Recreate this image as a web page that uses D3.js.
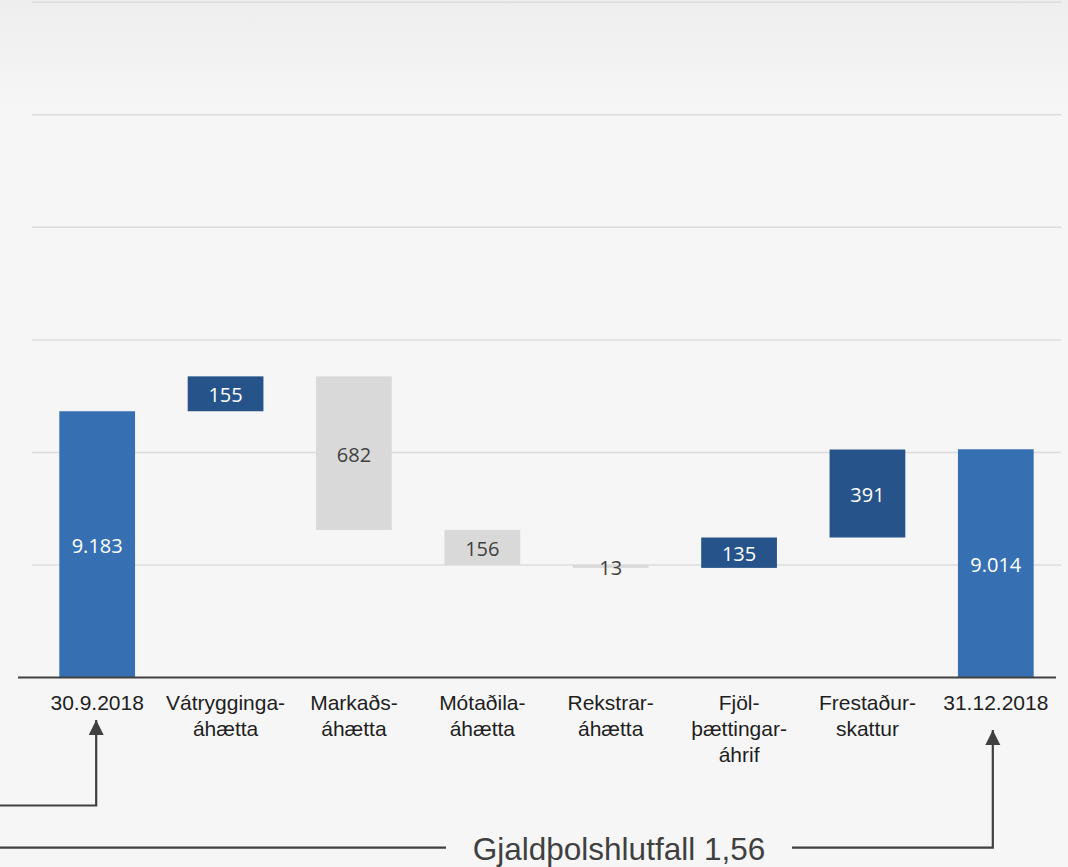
<!DOCTYPE html>
<html lang="is">
  <head>
    <meta charset="UTF-8" />
    <title>Gjaldþol - brúarmynd</title>
    <style>
      html, body { margin: 0; padding: 0; background: #f6f6f6; }
      svg { display: block; }
      .cat { font-family: "Liberation Sans", Arial, sans-serif; font-size: 21px; fill: #1e1e1e; }
      .val { font-family: "Open Sans", "Noto Sans", sans-serif; font-size: 20px; }
      .note { font-family: "Liberation Sans", Arial, sans-serif; font-size: 31.5px; fill: #404040; }
    </style>
  </head>
  <body>
    <svg width="1068" height="867"></svg>
    <script src="https://cdn.jsdelivr.net/npm/d3@7"></script>
    <script>
      // data
      const categories = [
        "30.9.2018",
        "Vátrygginga-\náhætta",
        "Markaðs-\náhætta",
        "Mótaðila-\náhætta",
        "Rekstrar-\náhætta",
        "Fjöl-\nþættingar-\náhrif",
        "Frestaður-\nskattur",
        "31.12.2018",
      ];
      const values = [9183, 155, -682, -156, -13, 135, 391, 9014];
      const kinds = ["total", "up", "down", "down", "down", "up", "up", "total"];
      const yDomain = [8000, 11000];
      const noteText = "Gjaldþolshlutfall 1,56";

      const colors = { total: "#3670b2", up: "#26548a", down: "#d8d9d8" };
      const labelColors = { total: "#ffffff", up: "#ffffff", down: "#404040" };

      const fmt = d3.formatLocale({ decimal: ",", thousands: ".", grouping: [3], currency: ["", ""] }).format(",d");

      // build waterfall steps
      let running = 0;
      const steps = values.map((v, i) => {
        let start, end;
        if (kinds[i] === "total") {
          start = yDomain[0];
          end = v;
          running = v;
        } else {
          start = running;
          end = running + v;
          running = end;
        }
        return { cat: categories[i], kind: kinds[i], value: v, lo: Math.min(start, end), hi: Math.max(start, end) };
      });

      const svg = d3.select("svg");
      const width = +svg.attr("width");

      // background gradient at the top
      const defs = svg.append("defs");
      const grad = defs.append("linearGradient").attr("id", "bg").attr("x1", 0).attr("y1", 0).attr("x2", 0).attr("y2", 1);
      grad.append("stop").attr("offset", "0%").attr("stop-color", "#eeeeee");
      grad.append("stop").attr("offset", "100%").attr("stop-color", "#f6f6f6");
      svg.append("rect").attr("width", width).attr("height", 867).attr("fill", "#f6f6f6");
      svg.append("rect").attr("width", width).attr("height", 110).attr("fill", "url(#bg)");

      const x = d3.scaleBand().domain(categories).range([33, 1060]).paddingInner(0.41).paddingOuter(0.205);
      const y = d3.scaleLinear().domain(yDomain).range([677.5, 2.3]);

      // gridlines
      svg.append("g")
        .selectAll("line")
        .data(y.ticks(6).filter((t) => t > yDomain[0]))
        .join("line")
        .attr("x1", 32)
        .attr("x2", 1061)
        .attr("y1", (d) => y(d))
        .attr("y2", (d) => y(d))
        .attr("stroke", "#dcdcdc")
        .attr("stroke-width", 1.5);

      // bars
      const bars = svg.append("g").selectAll("g").data(steps).join("g");
      bars.append("rect")
        .attr("x", (d) => x(d.cat))
        .attr("width", x.bandwidth())
        .attr("y", (d) => y(d.hi))
        .attr("height", (d) => y(d.lo) - y(d.hi))
        .attr("fill", (d) => colors[d.kind]);

      bars.append("text")
        .attr("class", "val")
        .attr("x", (d) => x(d.cat) + x.bandwidth() / 2)
        .attr("y", (d) => (y(d.lo) + y(d.hi)) / 2 + 1)
        .attr("text-anchor", "middle")
        .attr("dominant-baseline", "central")
        .attr("fill", (d) => labelColors[d.kind])
        .text((d) => fmt(Math.abs(d.value)));

      // baseline
      svg.append("line")
        .attr("x1", 18)
        .attr("x2", 1056)
        .attr("y1", y(yDomain[0]))
        .attr("y2", y(yDomain[0]))
        .attr("stroke", "#404040")
        .attr("stroke-width", 2);

      // category labels
      const cats = svg.append("g").selectAll("text").data(categories).join("text")
        .attr("class", "cat")
        .attr("text-anchor", "middle")
        .attr("transform", (d) => "translate(" + (x(d) + x.bandwidth() / 2) + ",710)");
      cats.selectAll("tspan")
        .data((d) => d.split("\n"))
        .join("tspan")
        .attr("x", 0)
        .attr("y", (d, i) => i * 26)
        .text((d) => d);

      // arrows below the axis
      defs.append("marker")
        .attr("id", "head")
        .attr("viewBox", "0 0 10 10")
        .attr("refX", 10)
        .attr("refY", 5)
        .attr("markerUnits", "userSpaceOnUse")
        .attr("markerWidth", 15)
        .attr("markerHeight", 16)
        .attr("orient", "auto")
        .append("path")
        .attr("d", "M0,0 L10,5 L0,10 Z")
        .attr("fill", "#404040");

      const xFirst = x(categories[0]) + x.bandwidth() / 2 - 1;
      const xLast = x(categories[categories.length - 1]) + x.bandwidth() / 2 - 3;

      svg.append("path")
        .attr("d", "M0,805.5 H" + xFirst + " V720")
        .attr("fill", "none")
        .attr("stroke", "#404040")
        .attr("stroke-width", 2.2)
        .attr("marker-end", "url(#head)");

      svg.append("line")
        .attr("x1", 0).attr("x2", 446)
        .attr("y1", 847.7).attr("y2", 847.7)
        .attr("stroke", "#404040").attr("stroke-width", 2.2);

      svg.append("path")
        .attr("d", "M792,847.7 H" + xLast + " V730")
        .attr("fill", "none")
        .attr("stroke", "#404040")
        .attr("stroke-width", 2.2)
        .attr("marker-end", "url(#head)");

      svg.append("text")
        .attr("class", "note")
        .attr("x", 619)
        .attr("y", 859.5)
        .attr("text-anchor", "middle")
        .text(noteText);
    </script>
  </body>
</html>
